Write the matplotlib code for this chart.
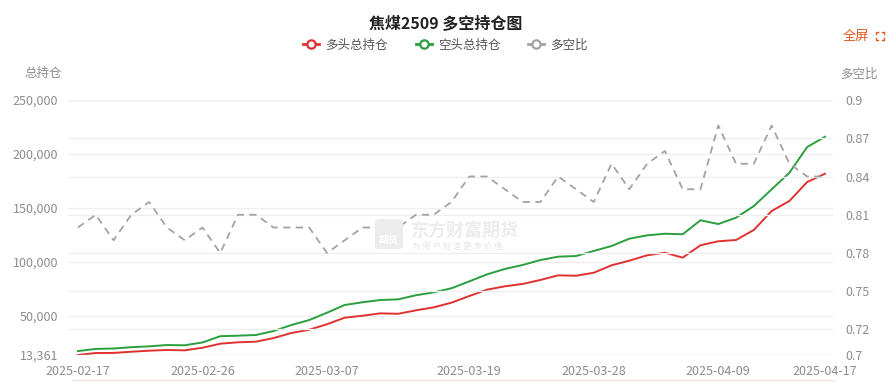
import matplotlib.pyplot as plt
from matplotlib.lines import Line2D
from matplotlib.patches import FancyBboxPatch
from matplotlib.ticker import FuncFormatter

plt.rcParams['font.family'] = ['Noto Sans CJK SC', 'DejaVu Sans']

# ---- data ----
dates = ['2025-02-17', '2025-02-18', '2025-02-19', '2025-02-20', '2025-02-21',
         '2025-02-24', '2025-02-25', '2025-02-26', '2025-02-27', '2025-02-28',
         '2025-03-03', '2025-03-04', '2025-03-05', '2025-03-06', '2025-03-07',
         '2025-03-10', '2025-03-11', '2025-03-12', '2025-03-13', '2025-03-14',
         '2025-03-17', '2025-03-18', '2025-03-19', '2025-03-20', '2025-03-21',
         '2025-03-24', '2025-03-25', '2025-03-26', '2025-03-27', '2025-03-28',
         '2025-03-31', '2025-04-01', '2025-04-02', '2025-04-03', '2025-04-07',
         '2025-04-08', '2025-04-09', '2025-04-10', '2025-04-11', '2025-04-14',
         '2025-04-15', '2025-04-16', '2025-04-17']

long_pos = [13361, 15200, 15300, 16400, 17350, 18000, 17700, 20100, 23850, 25150,
            25700, 29100, 33800, 36800, 41900, 48000, 49800, 52000, 51600, 54800,
            57600, 61900, 68100, 74000, 77100, 79300, 83000, 87300, 86900, 89700,
            96600, 100900, 105900, 108300, 103700, 115200, 118900, 120100, 129400, 147000,
            156300, 173900, 181600]

short_pos = [17000, 19000, 19400, 20600, 21400, 22600, 22400, 25000, 30800, 31300,
             31900, 35600, 41200, 45800, 52600, 59800, 62300, 64400, 65000, 68800,
             71500, 75300, 81700, 88200, 93200, 96900, 101500, 104600, 105200, 109900,
             114500, 121300, 124400, 125900, 125400, 138400, 134900, 140800, 151600, 167100,
             182500, 206400, 215900]

ratio = [0.80, 0.81, 0.79, 0.81, 0.82, 0.80, 0.79, 0.80, 0.78, 0.81,
         0.81, 0.80, 0.80, 0.80, 0.78, 0.79, 0.80, 0.80, 0.80, 0.81,
         0.81, 0.82, 0.84, 0.84, 0.83, 0.82, 0.82, 0.84, 0.83, 0.82,
         0.85, 0.83, 0.85, 0.86, 0.83, 0.83, 0.88, 0.85, 0.85, 0.88,
         0.85, 0.84, 0.84]

label_idx = [0, 7, 14, 22, 29, 36, 42]
left_ticks = [13361, 50000, 100000, 150000, 200000, 250000]
right_ticks = [0.7, 0.72, 0.75, 0.78, 0.81, 0.84, 0.87, 0.9]

RED = '#e03131'
GREEN = '#2b9e3e'
GRAY = '#a3a3a3'
TXT = '#8c8c8c'
GRID = '#eeeeee'
ORANGE = '#e2581f'

fig = plt.figure(figsize=(8.91, 3.82), dpi=100)
ax = fig.add_axes([68 / 891, 27 / 382, 765 / 891, 255 / 382])
ax2 = ax.twinx()

x = list(range(len(dates)))
ax.plot(x, long_pos, color=RED, lw=1.4, zorder=3)
ax.plot(x, short_pos, color=GREEN, lw=1.4, zorder=3)
ax2.plot(x, ratio, color=GRAY, lw=1.3, ls=(0, (4, 3)), zorder=3)

ax.set_xlim(-0.56, 42.45)
ax.set_ylim(13361, 250000)
ax2.set_ylim(0.7, 0.9)

ax.set_yticks(left_ticks)
ax.yaxis.set_major_formatter(FuncFormatter(lambda v, p: f'{int(v):,}'))
ax2.set_yticks(right_ticks)
ax2.yaxis.set_major_formatter(FuncFormatter(lambda v, p: f'{v:g}'))
ax.set_xticks(label_idx)
ax.set_xticklabels([dates[i] for i in label_idx])

for a in (ax, ax2):
    for s in a.spines.values():
        s.set_visible(False)
    a.grid(axis='y', color=GRID, lw=0.9)
    a.set_axisbelow(True)
ax.tick_params(axis='y', length=0, pad=7, labelsize=9, labelcolor=TXT)
ax2.tick_params(axis='y', length=0, pad=9, labelsize=9, labelcolor=TXT)
ax.tick_params(axis='x', length=0, pad=7, labelsize=9, labelcolor=TXT)

# axis names
fig.text(62 / 891, 1 - 74 / 382, '总持仓', ha='right', va='center', fontsize=9, color=TXT)
fig.text(840 / 891, 1 - 74 / 382, '多空比', ha='left', va='center', fontsize=9, color=TXT)

# title and legend
fig.text(0.5, 1 - 24 / 382, '焦煤2509 多空持仓图', ha='center', va='center',
         fontsize=11.5, fontweight='bold', color='#222222')
handles = [Line2D([], [], color=c, lw=2, marker='o', markersize=6,
                  markerfacecolor='white', markeredgewidth=1.6)
           for c in (RED, GREEN, GRAY)]
fig.legend(handles, ['多头总持仓', '空头总持仓', '多空比'], loc='center',
           bbox_to_anchor=(0.5, 1 - 45 / 382), ncol=3, frameon=False,
           fontsize=9, handlelength=1.3, handletextpad=0.5, columnspacing=2.2,
           labelcolor='#555555')

# "全屏" button with its corner-bracket icon
fig.text(843 / 891, 1 - 36 / 382, '全屏', ha='left', va='center', fontsize=9.5, color=ORANGE)
x0, x1, y0, y1, d = 876, 884, 32, 40, 2
for cx, cy, sx, sy in [(x0, y0, 1, 1), (x1, y0, -1, 1), (x0, y1, 1, -1), (x1, y1, -1, -1)]:
    fig.add_artist(Line2D([(cx + sx * d) / 891, cx / 891, cx / 891],
                          [1 - cy / 382, 1 - cy / 382, 1 - (cy + sy * d) / 382],
                          transform=fig.transFigure, color=ORANGE, lw=1.0))

# watermark
fig.patches.append(FancyBboxPatch((375 / 891, 1 - 249 / 382), 28 / 891, 30 / 382,
                                  boxstyle='round,pad=0,rounding_size=0.006',
                                  transform=fig.transFigure, fc='#ececec', ec='none', zorder=0))
fig.text(389 / 891, 1 - 240 / 382, '期货', ha='center', va='center', fontsize=7,
         color='white', fontweight='bold')
fig.text(411 / 891, 1 - 230 / 382, '东方财富期货', ha='left', va='center', fontsize=13,
         fontweight='bold', color='#ececec')
fig.text(412 / 891, 1 - 246 / 382, '为 用 户 创 造 更 多 价 值', ha='left', va='center',
         fontsize=6, color='#e6e6e6')

fig.add_artist(Line2D([72 / 891, 835 / 891], [1 - 380 / 382, 1 - 380 / 382],
                      transform=fig.transFigure, color='#f6e4dc', lw=1))

fig.savefig('out.png', dpi=100)
